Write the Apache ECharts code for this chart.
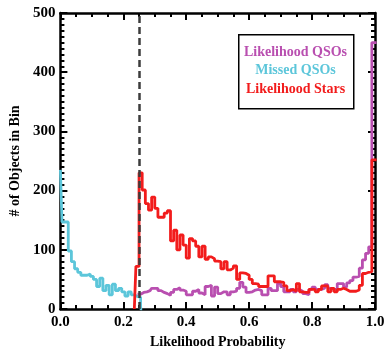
<!DOCTYPE html>
<html>
<head>
<meta charset="utf-8">
<script src="https://cdn.jsdelivr.net/npm/echarts@6/dist/echarts.min.js"></script>
<style>
    html, body { margin: 0; padding: 0; background: #fff; }
    #main { width: 389px; height: 354px; }
</style>
</head>
<body>
<div id="main"></div>
<script>
// histogram bins, 0.01 wide
var binWidth = 0.01;

// Missed QSOs, bins centred on 0.00 .. 0.26
var missedStart = 0;
var missedOffset = 0;
var missedQSOs = [235, 147, 147, 98, 80, 68, 62, 57, 57, 59, 55, 50, 38, 52, 31, 40, 24, 42,
    31, 35, 29, 22, 29, 24, 21, 20, 0];

// Likelihood Stars, bins 0.23-0.24 .. 1.00
var starsStart = 23;
var starsOffset = 0.5;
var likelihoodStars = [0, 72,
    230, 201, 178, 167, 189, 170, 155, 155, 162, 166, 115, 133, 100, 125, 108, 86,
    119, 115, 106, 88, 106, 84, 88, 85, 81, 80, 68, 80, 66, 69, 73, 50, 61, 60, 57, 50,
    43, 42, 38, 38, 38, 56, 56, 46, 46, 45, 39, 31, 33, 30, 43, 29, 28, 28, 33, 33,
    29, 33, 39, 39, 29, 35, 29, 33, 35, 33, 30, 30, 30, 32, 40, 60, 62, 63, 252, 252];

// Likelihood QSOs, bins 0.24-0.25 .. 1.00
var qsoStart = 24;
var qsoOffset = 0.5;
var likelihoodQSOs = [25, 25, 28, 29, 31, 35, 35, 31, 28, 26, 23, 28, 33, 36, 32, 30, 24, 24,
    30, 33, 27, 24, 38, 40, 22, 37, 26, 29, 29, 24, 29, 30, 35, 45, 37, 28, 29, 32, 33,
    31, 24, 24, 35, 31, 31, 43, 38, 29, 29, 33, 29, 33, 30, 26, 24, 33, 37, 33, 33, 35,
    41, 35, 33, 33, 43, 43, 37, 44, 48, 54, 55, 69, 83, 94, 105, 450, 450];

var xTicks = ['0.0', '0.2', '0.4', '0.6', '0.8', '1.0'];
var cutoff = 0.25;

var names = ['Likelihood QSOs', 'Missed QSOs', 'Likelihood Stars'];
var colors = ['#B94FB0', '#5CC6DA', '#F21C1C'];

var serif = '"Liberation Serif", "Times New Roman", serif';

function toPoints(values, start, offset){
    var pts = [];
    for (var i = 0; i < values.length; i++) {
        pts.push([+((start + i + offset) * binWidth).toFixed(4), values[i]]);
    }
    return pts;
}

function axisX(pos, showLabel){
    return {
        type: 'value', position: pos, min: 0, max: 1, interval: 0.2,
        name: showLabel ? 'Likelihood Probability' : '',
        nameLocation: 'middle', nameGap: 22,
        nameTextStyle: {fontFamily: serif, fontWeight: 'bold', fontSize: 14, color: '#000'},
        axisLine: {show: true, onZero: false, lineStyle: {color: '#000', width: 2.5}},
        axisTick: {show: true, inside: true, length: 7, lineStyle: {color: '#000', width: 2}},
        minorTick: {show: true, splitNumber: 4, length: 4, lineStyle: {color: '#000', width: 2}},
        axisLabel: {
            show: showLabel, margin: 6, fontFamily: serif, fontWeight: 'bold', fontSize: 15, color: '#000',
            formatter: function(v){ return xTicks[Math.round(v / 0.2)]; }
        },
        splitLine: {show: false}
    };
}

function axisY(pos, showLabel){
    return {
        type: 'value', position: pos, min: 0, max: 500, interval: 100,
        name: showLabel ? '# of Objects in Bin' : '',
        nameLocation: 'middle', nameGap: 33,
        nameTextStyle: {fontFamily: serif, fontWeight: 'bold', fontSize: 14, color: '#000'},
        axisLine: {show: true, onZero: false, lineStyle: {color: '#000', width: 2.5}},
        axisTick: {show: true, inside: true, length: 7, lineStyle: {color: '#000', width: 2}},
        minorTick: {show: true, splitNumber: 10, length: 4, lineStyle: {color: '#000', width: 2}},
        axisLabel: {show: showLabel, margin: 5, fontFamily: serif, fontWeight: 'bold', fontSize: 15, color: '#000'},
        splitLine: {show: false}
    };
}

function histSeries(idx, values, start, offset, z){
    return {
        name: names[idx], type: 'line', step: 'middle',
        xAxisIndex: 0, yAxisIndex: 0,
        data: toPoints(values, start, offset),
        showSymbol: false, symbol: 'none',
        lineStyle: {color: colors[idx], width: 2.8},
        z: z, animation: false
    };
}

var chart = echarts.init(document.getElementById('main'), null, {renderer: 'canvas'});

var stars = histSeries(2, likelihoodStars, starsStart, starsOffset, 4);
stars.markLine = {
    silent: true, symbol: ['none', 'none'], animation: false,
    label: {show: false},
    lineStyle: {color: '#3c3c3c', width: 2.5, type: [7, 4]},
    data: [{xAxis: cutoff}]
};

chart.setOption({
    backgroundColor: '#fff',
    animation: false,
    grid: {left: 52, right: 14, top: 13, bottom: 45},
    xAxis: [axisX('bottom', true), axisX('top', false)],
    yAxis: [axisY('left', true), axisY('right', false)],
    series: [
        histSeries(1, missedQSOs, missedStart, missedOffset, 2),
        histSeries(0, likelihoodQSOs, qsoStart, qsoOffset, 3),
        stars
    ],
    graphic: [
        {type: 'rect', left: 238, top: 34, z: 10,
            shape: {width: 115, height: 74},
            style: {fill: '#fff', stroke: '#000', lineWidth: 1.5}},
        {type: 'text', x: 295.5, y: 52, z: 11,
            style: {text: names[0], fill: colors[0], font: 'bold 14px ' + serif, textAlign: 'center', textVerticalAlign: 'middle'}},
        {type: 'text', x: 295.5, y: 70, z: 11,
            style: {text: names[1], fill: colors[1], font: 'bold 14px ' + serif, textAlign: 'center', textVerticalAlign: 'middle'}},
        {type: 'text', x: 295.5, y: 89, z: 11,
            style: {text: names[2], fill: colors[2], font: 'bold 14px ' + serif, textAlign: 'center', textVerticalAlign: 'middle'}}
    ]
});
</script>
</body>
</html>
